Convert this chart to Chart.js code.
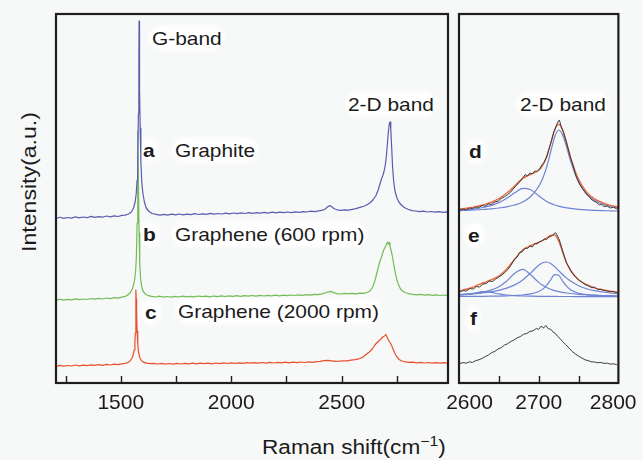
<!DOCTYPE html>
<html><head><meta charset="utf-8">
<script src="https://cdn.jsdelivr.net/npm/chart.js@4.4.1/dist/chart.umd.min.js"></script>
<style>
html,body{margin:0;padding:0;}
body{width:643px;height:460px;overflow:hidden;position:relative;background:#f7f8f8;font-family:"Liberation Sans",Arial,sans-serif;color:#1b1b1b;}
.lbl{position:absolute;font-size:19px;line-height:1;white-space:nowrap;transform-origin:0 50%;transform:translateY(-50%) scaleX(1.1);background:#fff;border-radius:10px;box-shadow:0 0 4px 3px #fff;z-index:0}
.b{font-weight:bold}
.ylab{position:absolute;left:28px;top:182px;font-size:21px;line-height:1;white-space:nowrap;transform:translate(-50%,-50%) rotate(-90deg) scaleX(1.1);z-index:0}
.xlab{position:absolute;left:262px;top:447px;font-size:20px;line-height:1;white-space:nowrap;transform-origin:0 50%;transform:translateY(-50%) scaleX(1.13);z-index:0}
.xlab sup{font-size:0.7em;line-height:0;}
canvas{position:absolute;top:0;z-index:1}
</style></head><body>
<div class="lbl" style="left:152px;top:38px">G-band</div>
<div class="lbl" style="left:348px;top:104px">2-D band</div>
<div class="lbl" style="left:520px;top:104px">2-D band</div>
<div class="lbl b" style="left:143px;top:150px">a</div>
<div class="lbl" style="left:175px;top:150px">Graphite</div>
<div class="lbl b" style="left:143px;top:234px">b</div>
<div class="lbl" style="left:175px;top:234px">Graphene (600 rpm)</div>
<div class="lbl b" style="left:145px;top:312px">c</div>
<div class="lbl" style="left:178px;top:311px">Graphene (2000 rpm)</div>
<div class="lbl b" style="left:469px;top:151px">d</div>
<div class="lbl b" style="left:468px;top:235px">e</div>
<div class="lbl b" style="left:470px;top:318px">f</div>
<div class="ylab">Intensity(a.u.)</div>
<div class="xlab">Raman shift(cm<sup>−1</sup>)</div>
<canvas id="cL" width="455" height="460" style="left:0"></canvas>
<canvas id="cR" width="260" height="460" style="left:395px"></canvas>
<script>
const leftTickValues = [1250, 1500, 1750, 2000, 2250, 2500, 2750];
const leftTickLabels = [1500, 2000, 2500];
const rightTickValues = [2600, 2650, 2700, 2750, 2800];
const rightTickLabels = [2600, 2700, 2800];

// Left panel spectra: [Raman shift, intensity (offset, a.u.)]
const graphite = [[1208,164.5],[1225,165.8],[1242,164.6],[1260,165.5],[1278,164.9],[1295,166.2],[1312,165.1],[1330,166],[1348,165.3],[1365,166.6],[1383,165.7],[1400,166.4],[1418,165.8],[1436,167],[1453,166.2],[1470,167.1],[1488,166.5],[1505,167.6],[1520,167.9],[1535,169],[1548,171],[1558,175],[1565,181],[1570,189],[1574,203],[1577,222],[1580,270],[1582,322],[1583,362],[1584,340],[1586,295],[1588,255],[1591,222],[1595,202],[1600,190],[1607,181],[1615,175],[1628,171.5],[1642,169.5],[1660,168.6],[1678,167.8],[1695,168.7],[1712,167.9],[1730,168.8],[1748,168.1],[1765,169],[1782,168.2],[1800,168.9],[1818,168.3],[1835,169.3],[1852,168.5],[1870,169.1],[1888,168.6],[1905,169.6],[1922,168.8],[1940,169.5],[1958,169],[1975,169.8],[1992,169.1],[2010,170],[2028,169.3],[2045,170.1],[2062,169.5],[2080,170.3],[2098,169.6],[2115,170.4],[2132,169.8],[2150,170.6],[2168,169.9],[2185,170.8],[2202,170.1],[2220,170.9],[2238,170.3],[2255,171],[2272,170.4],[2290,171.2],[2308,170.6],[2325,171.4],[2342,171],[2360,171.8],[2378,171.3],[2395,172.2],[2410,172.6],[2425,174],[2437,176.2],[2447,177.4],[2456,176],[2466,174.2],[2480,173.2],[2495,172.6],[2512,173.1],[2530,172.8],[2548,173.7],[2565,174.4],[2582,175.6],[2600,176.8],[2615,178.2],[2630,180.5],[2643,183.5],[2655,187.5],[2665,193],[2673,199],[2680,204],[2686,207.5],[2692,212],[2698,219],[2703,229],[2708,243],[2712,253],[2716,260],[2719,261],[2722,254],[2726,236],[2730,217],[2735,202],[2741,192],[2750,185],[2760,180.5],[2772,177.5],[2785,175.2],[2800,173.8],[2818,172.4],[2835,172],[2852,171.3],[2870,171.8],[2888,171],[2905,171.5],[2922,170.8],[2940,171.4],[2958,170.7],[2975,171.2],[2982,170.9]];

const graphene600 = [[1208,82.6],[1225,83.8],[1242,82.9],[1260,83.6],[1278,83.1],[1295,84.2],[1312,83.4],[1330,84],[1348,83.5],[1365,84.5],[1383,83.8],[1400,84.6],[1418,84],[1436,85],[1453,84.4],[1470,85.3],[1488,84.8],[1505,85.9],[1520,86.6],[1532,88],[1543,90.5],[1552,94],[1559,99],[1564,105],[1568,114],[1571,128],[1574,160],[1576,215],[1577,252],[1578,238],[1580,200],[1583,150],[1586,120],[1590,104],[1595,96],[1602,91.5],[1612,88.8],[1625,87.3],[1640,86.6],[1658,86],[1675,86.8],[1692,85.9],[1710,86.5],[1728,85.8],[1745,86.6],[1762,86],[1780,86.9],[1798,86.1],[1815,86.7],[1832,86.2],[1850,87],[1868,86.3],[1885,86.8],[1902,86.2],[1920,87],[1938,86.4],[1955,87.1],[1972,86.5],[1990,87.2],[2008,86.6],[2025,87.3],[2042,86.7],[2060,87.4],[2078,86.8],[2095,87.5],[2112,86.9],[2130,87.6],[2148,87],[2165,87.7],[2182,87.1],[2200,87.8],[2218,87.2],[2235,87.9],[2252,87.4],[2270,88],[2288,87.5],[2305,88.1],[2322,87.6],[2340,88.3],[2358,87.9],[2375,88.6],[2392,88.4],[2410,89.2],[2425,90],[2440,91.2],[2452,91.6],[2463,90.4],[2478,89.4],[2495,89],[2512,89.6],[2530,89.3],[2548,89.6],[2565,89.2],[2582,89.8],[2600,89.6],[2615,90.5],[2628,92],[2640,96],[2650,102],[2658,109],[2666,116],[2673,122],[2680,126],[2686,130.5],[2692,134],[2698,136.5],[2703,138.5],[2707,141],[2711,139],[2714,140.5],[2718,137],[2723,133],[2728,128],[2733,122],[2740,113],[2748,104.5],[2756,99],[2765,94.5],[2775,91.8],[2790,90.3],[2805,89.3],[2822,88.7],[2840,88.2],[2858,88.6],[2875,87.8],[2892,88.3],[2910,87.6],[2928,88.1],[2945,87.5],[2962,88],[2982,87.4]];

const graphene2000 = [[1208,16.6],[1225,17.7],[1242,16.8],[1260,17.5],[1278,17],[1295,18],[1312,17.2],[1330,17.9],[1348,17.3],[1365,18.2],[1383,17.6],[1400,18.3],[1418,17.7],[1436,18.6],[1453,18],[1470,18.8],[1488,18.3],[1505,19.2],[1520,19.6],[1532,20.5],[1542,22],[1550,24.5],[1556,28],[1561,33],[1564,40],[1566,50],[1568,70],[1569,93],[1570,84],[1572,68],[1574,52],[1577,39],[1581,30],[1587,25],[1595,22],[1605,20.6],[1618,19.8],[1632,19.3],[1650,19.7],[1668,19],[1685,19.6],[1702,18.9],[1720,19.5],[1738,18.8],[1755,19.6],[1772,19],[1790,19.7],[1808,19.1],[1825,19.8],[1842,19.2],[1860,19.9],[1878,19.3],[1895,19.8],[1912,19.2],[1930,20],[1948,19.4],[1965,20.1],[1982,19.5],[2000,20.2],[2018,19.6],[2035,20.2],[2052,19.7],[2070,20.3],[2088,19.8],[2105,20.4],[2122,19.9],[2140,20.5],[2158,19.9],[2175,20.6],[2192,20],[2210,20.7],[2228,20.1],[2245,20.8],[2262,20.2],[2280,20.9],[2298,20.4],[2315,21],[2332,20.5],[2350,21.1],[2368,20.7],[2385,21.4],[2402,21.6],[2420,22.4],[2438,22.6],[2455,22.1],[2472,21.6],[2490,21.8],[2508,22.2],[2525,22.1],[2542,22.8],[2560,23.4],[2578,24.2],[2595,25.6],[2610,28.5],[2625,31],[2638,34],[2650,38],[2660,40.5],[2670,42.5],[2680,44.5],[2688,46.5],[2694,47],[2699,48.5],[2703,47],[2708,44.5],[2714,42],[2720,40],[2727,37],[2734,33],[2742,29],[2750,26],[2760,23.5],[2772,22],[2788,21.2],[2805,20.6],[2822,20.9],[2840,20.2],[2858,20.7],[2875,20],[2892,20.5],[2910,19.9],[2928,20.4],[2945,19.8],[2962,20.3],[2982,19.7]];

// Right panel (2-D band detail)
const fitX = [2600,2610,2620,2630,2640,2650,2660,2670,2680,2690,2700,2705,2710,2715,2720,2725,2730,2735,2740,2750,2760,2770,2780,2790,2800];
const dFit   = [174,174.9,176.1,178,180.5,184.4,190,197.2,204.6,208.7,212.7,217.7,226.6,239.6,253,258.8,252.9,240.2,225.6,203.7,191.1,184.2,180.4,177.7,176];
const dPeak1 = [172.6,173.2,174.1,175.5,177.4,180.4,184.8,190.2,194.6,193.2,187.2,184.2,181.6,179.6,178,176.8,175.9,175.2,174.6,173.7,173.1,172.7,172.4,172.2,172];
const dPeak2 = [172.4,172.7,173,173.5,174.1,175,176.2,178,181,186.5,196.5,204.5,216,231,246,253,248,236,222,201,189,182.5,179,176.5,175];
const eFit   = [92,94,96.7,100,103,107,114,124,133,137.5,140.5,142.5,145,147.5,148,142,131,120,112.5,103.3,98.4,95.2,93.2,91.8,90.8];
const ePeak1 = [87.7,88.6,90,91.3,90.6,89.1,88,87.4,87,86.8,86.7,86.7,86.6,86.6,86.6,86.5,86.5,86.5,86.5,86.4,86.4,86.4,86.4,86.4,86.4];
const ePeak2 = [88.3,88.8,89.6,90.9,92.9,96.3,102,109.8,113.6,108.2,100.6,97.7,95.5,93.7,92.4,91.4,90.6,90,89.5,88.7,88.2,87.8,87.5,87.3,87.2];
const ePeak3 = [88.4,88.9,89.4,90.2,91.2,92.7,94.9,98.1,103.1,110.1,117.8,120.3,121,119.5,116.4,112.4,108.5,104.9,101.9,97.3,94.3,92.3,91,90,89.3];
const ePeak4 = [86.5,86.6,86.6,86.7,86.8,86.9,87.1,87.5,88,89.1,91.5,93.9,97.7,103.2,108.4,107.7,102,96.8,93.3,89.8,88.4,87.6,87.2,87,86.8];

const dData = [[2601,172.5],[2605,174],[2609,173.2],[2613,175],[2617,174.4],[2621,176],[2625,175.6],[2629,177.5],[2633,176.8],[2637,179],[2641,178.6],[2645,181],[2649,181.8],[2653,184.5],[2657,186.2],[2661,188.4],[2665,191],[2669,195],[2672,197.5],[2676,201],[2680,205],[2683,208.5],[2686,207],[2689,210],[2692,209],[2695,212],[2698,211.5],[2701,214],[2704,218],[2707,221],[2710,226],[2713,234],[2716,242],[2719,251],[2722,257],[2724,261],[2726,263],[2728,257],[2731,251],[2734,243],[2737,234],[2740,225],[2743,218],[2746,209],[2749,203],[2752,198],[2755,194.5],[2758,191],[2761,188],[2764,186],[2767,183],[2770,181.5],[2773,180.5],[2776,178],[2779,178.6],[2782,176.5],[2786,177],[2790,175],[2794,175.8],[2798,174]];
const eData = [[2601,91],[2605,92.5],[2609,92],[2614,94.5],[2618,94],[2622,96.5],[2626,96],[2630,99],[2634,99.5],[2638,102],[2642,101.5],[2646,104],[2650,106],[2654,108],[2658,111],[2662,114],[2666,119],[2670,124],[2673,126],[2676,130.5],[2679,131],[2683,135],[2686,134.5],[2689,137],[2692,136],[2695,139.5],[2698,139],[2701,141.5],[2704,142],[2707,144],[2710,143.5],[2713,146],[2716,147],[2719,149],[2721,150.5],[2723,148],[2726,143],[2729,135],[2732,127],[2735,120],[2738,116],[2742,110],[2746,106.5],[2750,103],[2754,101],[2758,98.5],[2762,97.5],[2766,95.5],[2770,95.8],[2774,93.5],[2778,93.8],[2782,92.5],[2786,92],[2790,91.2],[2794,91.5],[2798,90.2]];
const fData = [[2601,19.5],[2605,20.4],[2609,19.8],[2613,21.2],[2617,20.6],[2621,22.4],[2625,23.2],[2629,24.6],[2633,26.5],[2637,28],[2641,30.4],[2645,31.6],[2649,34],[2653,35.3],[2657,38],[2661,39.2],[2665,41.5],[2669,43],[2673,45.2],[2677,46.4],[2681,48.8],[2685,49.5],[2689,51.6],[2693,52.2],[2697,54.5],[2700,53.6],[2703,56.8],[2706,55],[2709,57.5],[2712,54.2],[2715,53.8],[2718,51],[2721,49.5],[2724,46.5],[2727,44.2],[2730,41.5],[2734,38.3],[2738,35],[2742,31.6],[2746,29],[2750,26.8],[2754,25.1],[2758,23.2],[2762,22.4],[2766,21.2],[2770,21],[2774,20.2],[2778,20.6],[2782,19.6],[2786,19.9],[2790,18.8],[2794,19.2],[2798,18.3]];

const pts = a => a.map(([x, y]) => ({x, y}));
const fitPts = a => fitX.map((x, i) => ({x, y: a[i]}));

const framePlugin = {
  id: 'frame',
  afterDraw(chart) {
    const {ctx, chartArea: a} = chart;
    const x = chart.scales.x;
    ctx.save();
    ctx.strokeStyle = '#1e1e1e';
    ctx.lineWidth = 1.4;
    x.ticks.forEach(t => {
      if (t.value > x.min && t.value < x.max) {
        const px = Math.round(x.getPixelForValue(t.value)) + 0.5;
        ctx.beginPath(); ctx.moveTo(px, a.bottom); ctx.lineTo(px, a.bottom - 7); ctx.stroke();
      }
    });
    ctx.lineWidth = 2.2;
    ctx.strokeRect(a.left, a.top, a.right - a.left, a.bottom - a.top);
    ctx.restore();
  }
};

const FONT = '"Liberation Sans", Arial, sans-serif';
const EN = '\u2002';
function opts(minX, maxX, tickValues, labels, pad) {
  const first = labels[0], last = labels[labels.length - 1];
  return {
    responsive: false, animation: false, events: [],
    layout: {padding: pad},
    plugins: {legend: {display: false}, tooltip: {enabled: false}},
    elements: {point: {radius: 0}, line: {borderJoinStyle: 'round'}},
    scales: {
      x: {
        type: 'linear', min: minX, max: maxX,
        grid: {display: false, drawTicks: false},
        border: {display: false},
        afterBuildTicks: s => { s.ticks = tickValues.map(v => ({value: v})); },
        ticks: {
          autoSkip: false, maxRotation: 0,
          padding: 8, color: '#1b1b1b', font: {family: FONT, size: 21},
          callback: v => {
            if (!labels.includes(v)) return '';
            if (v === first && v === minX) return EN + EN + String(v);
            if (v === last && v === maxX) return String(v) + EN;
            return String(v);
          }
        },
        afterFit: s => { s.height = 77; }
      },
      y: {display: false, min: 0, max: 369}
    }
  };
}

const spec = (data, color, w) => ({data: pts(data), borderColor: color, borderWidth: w, tension: 0, fill: false});
const fit = (data, color, w) => ({data: fitPts(data), borderColor: color, borderWidth: w, cubicInterpolationMode: 'monotone', fill: false});

new Chart(document.getElementById('cL'), {
  type: 'line',
  data: {datasets: [
    spec(graphite, '#5a5cae', 1.2),
    spec(graphene600, '#72bd55', 1.2),
    spec(graphene2000, '#e8502e', 1.2)
  ]},
  options: opts(1207, 2981, leftTickValues, leftTickLabels, {left: 56, right: 7, top: 14, bottom: 0}),
  plugins: [framePlugin]
});

const BLUE = '#6f84d4', ORANGE = '#ec6a40', BLACK = '#3c3c3c';
new Chart(document.getElementById('cR'), {
  type: 'line',
  data: {datasets: [
    spec(dData, BLACK, 1),
    fit(dFit, ORANGE, 1.4),
    fit(dPeak1, BLUE, 1.2),
    fit(dPeak2, BLUE, 1.2),
    spec(eData, BLACK, 1),
    fit(eFit, ORANGE, 1.4),
    fit(ePeak1, BLUE, 1.2),
    fit(ePeak2, BLUE, 1.2),
    fit(ePeak3, BLUE, 1.2),
    fit(ePeak4, BLUE, 1.2),
    spec(fData, BLACK, 1)
  ]},
  options: opts(2600, 2800, rightTickValues, rightTickLabels, {left: 64, right: 33, top: 14, bottom: 0}),
  plugins: [framePlugin]
});
</script>
</body></html>
